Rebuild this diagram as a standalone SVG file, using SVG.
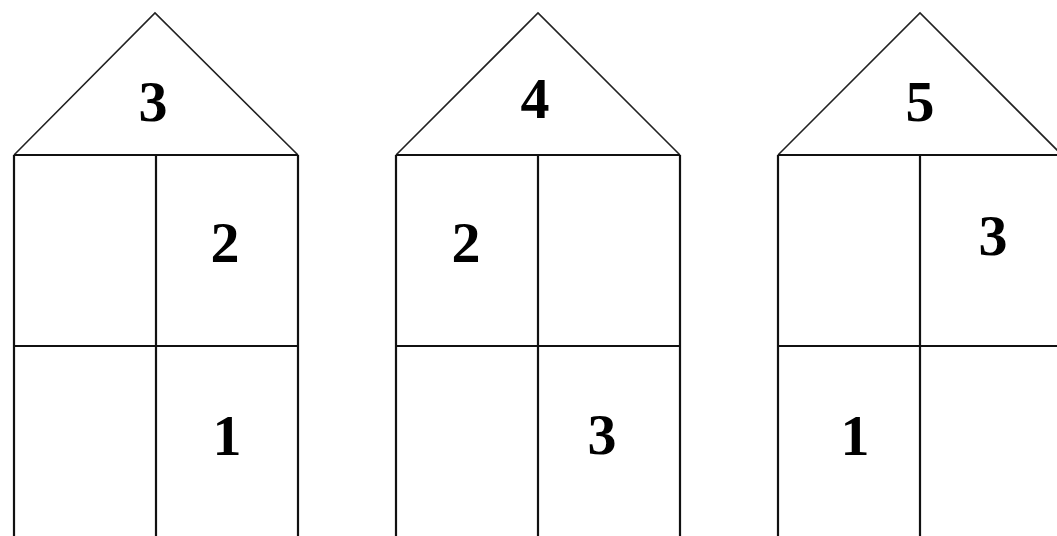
<svg xmlns="http://www.w3.org/2000/svg" width="1057" height="536" viewBox="0 0 1057 536">
<style>
.roof{fill:none;stroke:#222;stroke-width:1.6;stroke-linejoin:miter}
.wall{fill:none;stroke:#111;stroke-width:2.2}
.n{font-family:"Liberation Serif","Times New Roman",serif;font-weight:bold;font-size:58px;fill:#000;text-anchor:middle}
</style>
<rect width="1057" height="536" fill="#fff"/>
<g id="house1">
<polyline class="roof" points="14,155 155,13 298,155"/>
<path class="wall" d="M14,155H298M14,155V540M156,155V540M298,155V540M14,346H298"/>
<text class="n" x="153" y="121">3</text>
<text class="n" x="225" y="262">2</text>
<text class="n" x="227" y="455">1</text>
</g>
<g id="house2">
<polyline class="roof" points="396,155 538,13 680,155"/>
<path class="wall" d="M396,155H680M396,155V540M538,155V540M680,155V540M396,346H680"/>
<text class="n" x="535" y="118">4</text>
<text class="n" x="466" y="262">2</text>
<text class="n" x="602" y="454">3</text>
</g>
<g id="house3">
<polyline class="roof" points="778,155 920,13 1062,155"/>
<path class="wall" d="M778,155H1062M778,155V540M920,155V540M1062,155V540M778,346H1062"/>
<text class="n" x="920" y="121">5</text>
<text class="n" x="993" y="255">3</text>
<text class="n" x="855" y="455">1</text>
</g>
</svg>
